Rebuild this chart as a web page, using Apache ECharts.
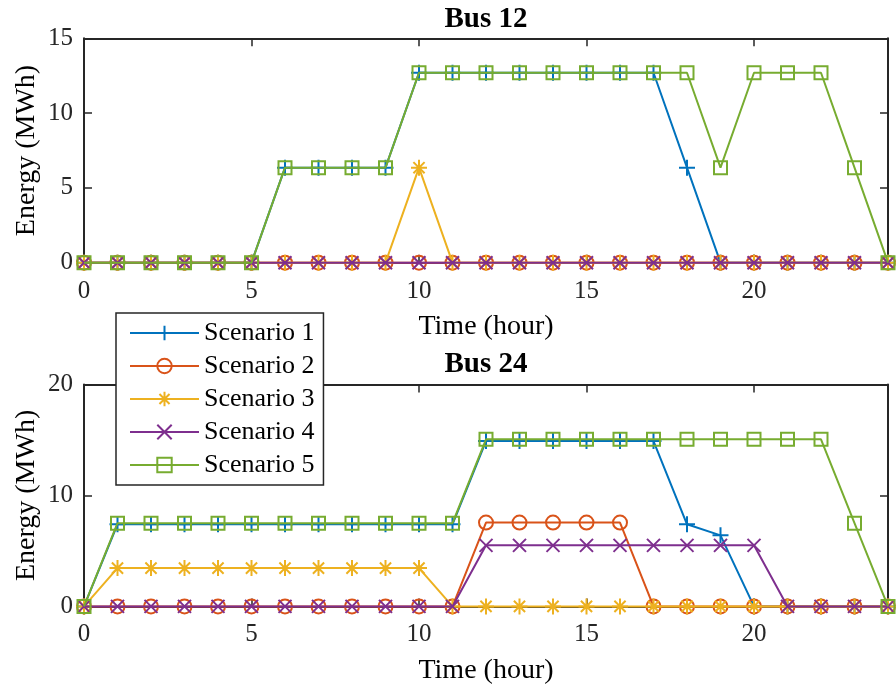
<!DOCTYPE html>
<html>
<head>
<meta charset="utf-8">
<script src="https://cdn.jsdelivr.net/npm/echarts@6/dist/echarts.min.js"></script>
<style>
  html, body { margin: 0; padding: 0; background: #fff; }
  #chart { width: 896px; height: 689px; }
</style>
</head>
<body>
<div id="chart"></div>
<script>
// Hour of day for each sample
const hours = [0,1,2,3,4,5,6,7,8,9,10,11,12,13,14,15,16,17,18,19,20,21,22,23,24];

// Stored energy at bus 12 (MWh)
const bus12S1 = [0,0,0,0,0,0,6.35,6.35,6.35,6.35,12.7,12.7,12.7,12.7,12.7,12.7,12.7,12.7,6.35,0,0,0,0,0,0];
const bus12S2 = [0,0,0,0,0,0,0,0,0,0,0,0,0,0,0,0,0,0,0,0,0,0,0,0,0];
const bus12S3 = [0,0,0,0,0,0,0,0,0,0,6.35,0,0,0,0,0,0,0,0,0,0,0,0,0,0];
const bus12S4 = [0,0,0,0,0,0,0,0,0,0,0,0,0,0,0,0,0,0,0,0,0,0,0,0,0];
const bus12S5 = [0,0,0,0,0,0,6.35,6.35,6.35,6.35,12.7,12.7,12.7,12.7,12.7,12.7,12.7,12.7,12.7,6.35,12.7,12.7,12.7,6.35,0];

// Stored energy at bus 24 (MWh)
const bus24S1 = [0,7.4,7.4,7.4,7.4,7.4,7.4,7.4,7.4,7.4,7.4,7.4,14.9,14.9,14.9,14.9,14.9,14.9,7.4,6.4,0,0,0,0,0];
const bus24S2 = [0,0,0,0,0,0,0,0,0,0,0,0,7.55,7.55,7.55,7.55,7.55,0,0,0,0,0,0,0,0];
const bus24S3 = [0,3.45,3.45,3.45,3.45,3.45,3.45,3.45,3.45,3.45,3.45,0,0,0,0,0,0,0,0,0,0,0,0,0,0];
const bus24S4 = [0,0,0,0,0,0,0,0,0,0,0,0,5.5,5.5,5.5,5.5,5.5,5.5,5.5,5.5,5.5,0,0,0,0];
const bus24S5 = [0,7.5,7.5,7.5,7.5,7.5,7.5,7.5,7.5,7.5,7.5,7.5,15.05,15.05,15.05,15.05,15.05,15.05,15.05,15.05,15.05,15.05,15.05,7.5,0];

const scenarioNames = ['Scenario 1','Scenario 2','Scenario 3','Scenario 4','Scenario 5'];
const colors = ['#0072BD','#D95319','#EDB120','#7E2F8E','#77AC30'];

// Marker outlines drawn as stroked paths (hollow markers)
const markers = [
  'path://M0,-1L0,1M-1,0L1,0',
  'path://M-1,0A1,1,0,1,0,1,0A1,1,0,1,0,-1,0Z',
  'path://M0,-1L0,1M-1,0L1,0M-0.7,-0.7L0.7,0.7M-0.7,0.7L0.7,-0.7',
  'path://M-1,-1L1,1M-1,1L1,-1',
  'path://M-1,-1L1,-1L1,1L-1,1Z'
];
const markerSizes = [16, 14, 16, 13, 13];

const FONT = "'Liberation Serif','Times New Roman',serif";
const AX = '#262626';

function pairs(vals) { return hours.map((h, i) => [h, vals[i]]); }

function frameAxis(extra) {
  return Object.assign({
    type: 'value',
    axisLine: { show: true, onZero: false, lineStyle: { color: AX, width: 2 } },
    axisTick: { show: true, inside: true, length: 8, lineStyle: { color: AX, width: 1.5 } },
    splitLine: { show: false }
  }, extra);
}

function xAxes(gridIndex) {
  return [
    frameAxis({
      gridIndex, min: 0, max: 24, interval: 5, position: 'bottom',
      name: 'Time (hour)', nameLocation: 'middle', nameGap: 50,
      nameTextStyle: { fontFamily: FONT, fontSize: 28, color: '#000' },
      axisLabel: { show: true, margin: 16, showMaxLabel: false, fontFamily: FONT, fontSize: 25, color: AX }
    }),
    frameAxis({ gridIndex, min: 0, max: 24, interval: 5, position: 'top', axisLabel: { show: false } })
  ];
}

function yAxes(gridIndex, max, interval) {
  return [
    frameAxis({
      gridIndex, min: 0, max, interval, position: 'left',
      name: 'Energy (MWh)', nameLocation: 'middle', nameGap: 43, nameMoveOverlap: false,
      nameTextStyle: { fontFamily: FONT, fontSize: 28, color: '#000' },
      axisLabel: { show: true, margin: 11, fontFamily: FONT, fontSize: 25, color: AX }
    }),
    frameAxis({ gridIndex, min: 0, max, interval, position: 'right', axisLabel: { show: false } })
  ];
}

function makeSeries(values, axisIdx) {
  return values.map((vals, k) => ({
    name: scenarioNames[k],
    type: 'line',
    xAxisIndex: axisIdx, yAxisIndex: axisIdx,
    data: pairs(vals),
    symbol: markers[k],
    symbolSize: markerSizes[k],
    showAllSymbol: true,
    clip: false,
    lineStyle: { color: colors[k], width: 2 },
    itemStyle: { color: 'none', borderColor: colors[k], borderWidth: 2 },
    emphasis: { disabled: true },
    z: 2 + k
  }));
}

const chart = echarts.init(document.getElementById('chart'), null, { renderer: 'canvas' });

chart.setOption({
  animation: false,
  backgroundColor: '#fff',
  title: [
    { text: 'Bus 12', left: 481, top: 0, textAlign: 'center',
      textStyle: { fontFamily: FONT, fontSize: 29, fontWeight: 'bold', color: '#000' } },
    { text: 'Bus 24', left: 481, top: 345, textAlign: 'center',
      textStyle: { fontFamily: FONT, fontSize: 29, fontWeight: 'bold', color: '#000' } }
  ],
  grid: [
    { left: 84, top: 38.3, width: 804, height: 224.4, outerBoundsMode: 'none', containLabel: false },
    { left: 84, top: 384.4, width: 804, height: 222, outerBoundsMode: 'none', containLabel: false }
  ],
  xAxis: [...xAxes(0), ...xAxes(1)],
  yAxis: [...yAxes(0, 15, 5), ...yAxes(1, 20, 10)],
  legend: {
    orient: 'vertical',
    left: 116, top: 313,
    padding: [7, 9, 7, 13],
    itemWidth: 69, itemHeight: 18, itemGap: 7,
    backgroundColor: '#fff',
    borderColor: AX, borderWidth: 1.5,
    textStyle: { fontFamily: FONT, fontSize: 26, lineHeight: 26, color: '#000' },
    data: scenarioNames,
    selectedMode: false,
    z: 10
  },
  series: [
    ...makeSeries([bus12S1, bus12S2, bus12S3, bus12S4, bus12S5], 0),
    ...makeSeries([bus24S1, bus24S2, bus24S3, bus24S4, bus24S5], 2)
  ]
});
</script>
</body>
</html>
